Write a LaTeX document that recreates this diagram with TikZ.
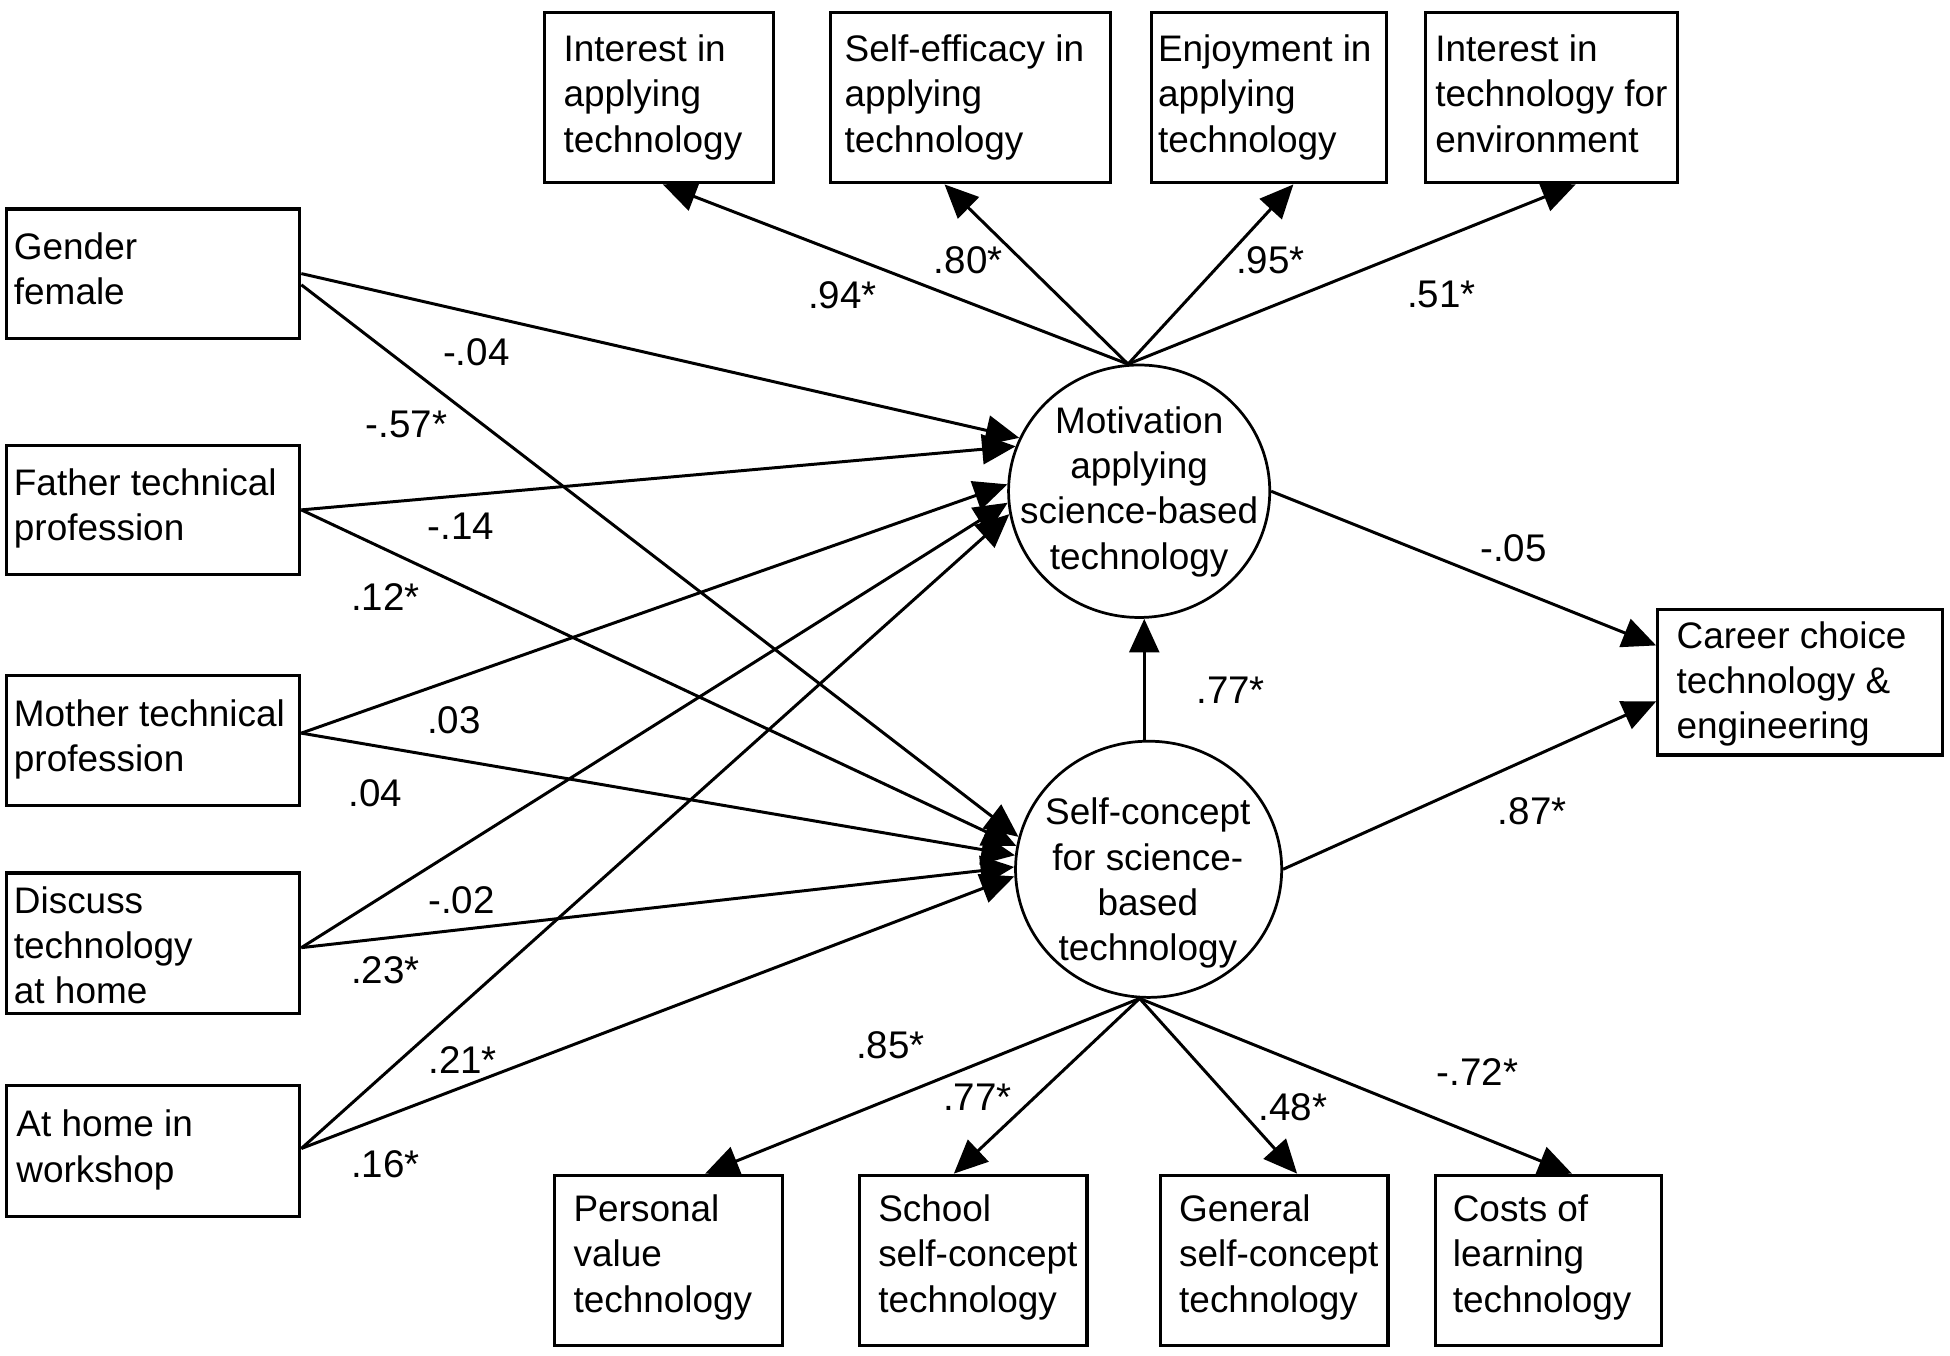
\documentclass[tikz,border=0pt]{standalone}
\usepackage{fontspec}
\setmainfont{Liberation Sans}
\usetikzlibrary{arrows.meta,shapes.geometric,calc}
\begin{document}
\begin{tikzpicture}[x=1pt,y=-1pt,
  box/.style={draw, line width=2.6pt, rectangle, inner sep=0pt},
  txt/.style={inner sep=0pt, align=left, anchor=north west, font=\fontsize{29.7}{36.5}\selectfont},
  ctxt/.style={inner sep=0pt, align=center, anchor=north, font=\fontsize{29.7}{36.5}\selectfont},
  lat/.style={draw, line width=2.2pt, ellipse, inner sep=0pt},
  arr/.style={line width=2.4pt, -{Triangle[length=27pt,width=24pt]}},
  lab/.style={inner sep=0pt, font=\fontsize{31}{31}\selectfont}]
\fill[white] (0,0) rectangle (1568,1090);

% top indicator boxes
\node[box, minimum width=184pt, minimum height=137pt] (ia) at (530,78.5) {};
\node[box, minimum width=225pt, minimum height=137pt] (se) at (780.5,78.5) {};
\node[box, minimum width=189pt, minimum height=137pt] (en) at (1020.5,78.5) {};
\node[box, minimum width=203pt, minimum height=137pt] (ie) at (1247.5,78.5) {};
\node[txt] (ia-t) at (453,27.5) {Interest in\\applying\\technology};
\node[txt] (se-t) at (679,27.5) {Self-efficacy in\\applying\\technology};
\node[txt] (en-t) at (931,27.5) {Enjoyment in\\applying\\technology};
\node[txt] (ie-t) at (1154,27.5) {Interest in\\technology for\\environment};

% left predictor boxes
\node[box, minimum width=236pt, minimum height=104pt] (gender) at (123,220) {};
\node[box, minimum width=236pt, minimum height=104pt] (father) at (123,410) {};
\node[box, minimum width=236pt, minimum height=105pt] (mother) at (123,595.5) {};
\node[box, minimum width=236pt, minimum height=113pt] (discuss) at (123,758.5) {};
\node[box, minimum width=236pt, minimum height=105pt] (workshop) at (123,925.5) {};
\node[txt] (gender-t) at (11,187) {Gender\\female};
\node[txt] (father-t) at (11,376.5) {Father technical\\profession};
\node[txt] (mother-t) at (11,562.5) {Mother technical\\profession};
\node[txt] (discuss-t) at (11,712.5) {Discuss\\technology\\at home};
\node[txt] (workshop-t) at (13,892.5) {At home in\\workshop};

% bottom indicator boxes
\node[box, minimum width=183pt, minimum height=137pt] (pv) at (537.5,1013.5) {};
\node[box, minimum width=183pt, minimum height=137pt] (sch) at (782.5,1013.5) {};
\node[box, minimum width=183pt, minimum height=137pt] (gen) at (1024.5,1013.5) {};
\node[box, minimum width=182pt, minimum height=137pt] (cost) at (1245,1013.5) {};
\node[txt] (pv-t) at (461,960.5) {Personal\\value\\technology};
\node[txt] (sch-t) at (706,960.5) {School\\self-concept\\technology};
\node[txt] (gen-t) at (948,960.5) {General\\self-concept\\technology};
\node[txt] (cost-t) at (1168,960.5) {Costs of\\learning\\technology};

% outcome box
\node[box, minimum width=229pt, minimum height=117pt] (career) at (1447.5,548.5) {};
\node[txt] (career-t) at (1348,499.5) {Career choice\\technology \&\\engineering};

% latent variables
\node[lat, minimum width=210pt, minimum height=203pt] (mot) at (916,395) {};
\node[lat, minimum width=214pt, minimum height=206pt] (sc) at (923.6,699) {};
\node[ctxt] (mot-t) at (916,326.5) {Motivation\\applying\\science-based\\technology};
\node[ctxt] (sc-t) at (923,641.5) {Self-concept\\for science-\\based\\technology};

% loadings, motivation
\draw[arr] (mot.95) -- ([xshift=3pt]ia.south);
\draw[arr] (mot.95) -- ([xshift=-21pt]se.south);
\draw[arr] (mot.95) -- ([xshift=19.5pt]en.south);
\draw[arr] (mot.95) -- ([xshift=19.5pt]ie.south);

% loadings, self-concept
\draw[arr] (sc.266) -- ([xshift=29.5pt]pv.north);
\draw[arr] (sc.266) -- ([xshift=-15.5pt]sch.north);
\draw[arr] (sc.266) -- ([xshift=18.5pt]gen.north);
\draw[arr] (sc.266) -- ([xshift=19pt]cost.north);

% structural paths
\draw[arr] (mot.east) -- ([yshift=29.5pt]career.west);
\draw[arr] (sc.east) -- ([yshift=-15.5pt]career.west);
\coordinate (vx) at ($(sc.north)+(-3.5,0)$);
\draw[arr] (vx) -- (vx |- mot.south);

% predictors
\draw[arr] (gender.east) -- (mot.156);
\draw[arr] ([yshift=-9pt]gender.east) -- (sc.166);
\draw[arr] (father.east) -- (mot.160);
\draw[arr] (father.east) -- (sc.170);
\draw[arr] ([yshift=6pt]mother.east) -- (mot.177);
\draw[arr] ([yshift=6pt]mother.east) -- (sc.174);
\draw[arr] ([yshift=-3.5pt]discuss.east) -- (mot.185);
\draw[arr] ([yshift=-3.5pt]discuss.east) -- (sc.179);
\draw[arr] ([yshift=2pt]workshop.east) -- (mot.190);
\draw[arr] ([yshift=2pt]workshop.east) -- (sc.183);

% labels
\node[lab] (l-ia) at (677.5,237) {.94*};
\node[lab] (l-se) at (778.5,209) {.80*};
\node[lab] (l-en) at (1021.5,209.5) {.95*};
\node[lab] (l-ie) at (1159,236.5) {.51*};
\node[lab] (l-g1) at (383,283) {-.04};
\node[lab] (l-g2) at (327,341) {-.57*};
\node[lab] (l-f1) at (370.5,423.5) {-.14};
\node[lab] (l-f2) at (310,480) {.12*};
\node[lab] (l-m1) at (365,579) {.03};
\node[lab] (l-m2) at (302,637.5) {.04};
\node[lab] (l-d1) at (371,724) {-.02};
\node[lab] (l-d2) at (310,780) {.23*};
\node[lab] (l-w1) at (372,852.5) {.21*};
\node[lab] (l-w2) at (310,936.5) {.16*};
\node[lab] (l-mc) at (1217,440.5) {-.05};
\node[lab] (l-sm) at (989.5,555) {.77*};
\node[lab] (l-sc) at (1232,652.5) {.87*};
\node[lab] (l-pv) at (716,840.5) {.85*};
\node[lab] (l-sch) at (786,882.5) {.77*};
\node[lab] (l-gen) at (1039.5,890) {.48*};
\node[lab] (l-cost) at (1188,862) {-.72*};
\end{tikzpicture}
\end{document}
